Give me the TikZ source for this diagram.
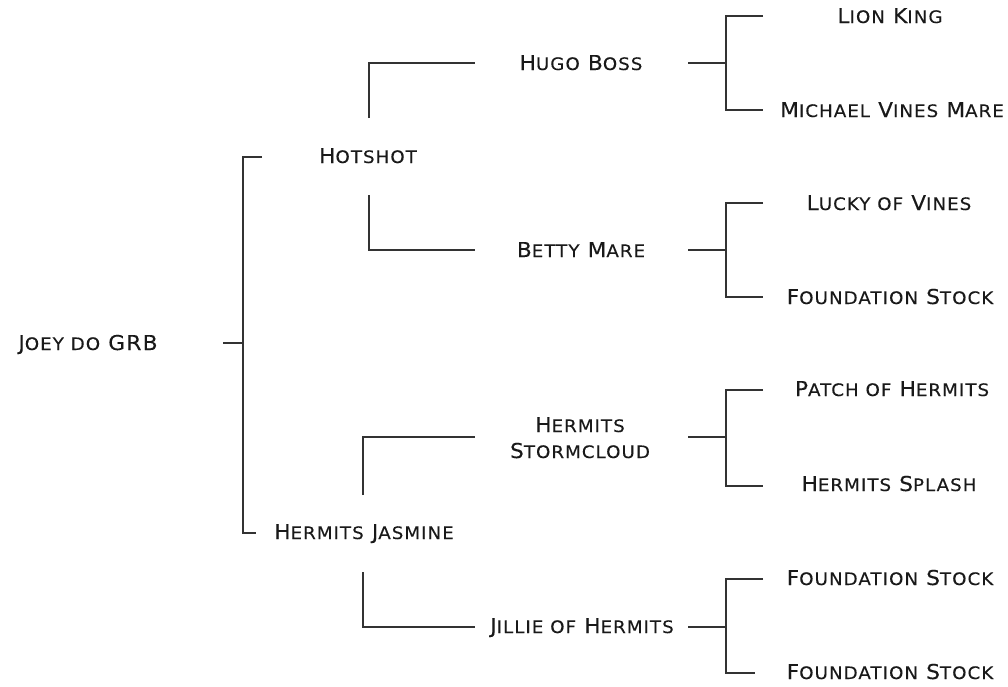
\documentclass[tikz,border=0pt]{standalone}
\usepackage{fontspec}
\newfontfamily\cpfont[LetterSpace=6,FakeStretch=1.06,FakeBold=0.2]{DejaVu Sans}
\newcommand\sm[1]{{\fontsize{17.2}{19}\selectfont #1}}
\tikzset{
  lbl/.style={font={\cpfont\fontsize{20.5}{26}\selectfont}, text=black!90, inner sep=0pt, align=center, anchor=base},
  ln/.style={line width=1.3pt, draw=black!80}
}
\begin{document}
\begin{tikzpicture}[x=1pt,y=-1pt]
\useasboundingbox (0,0) rectangle (1008,686);
% generation 0
\node[lbl] (joey) at (88,350) {J\sm{OEY DO} GRB};
% generation 1
\node[lbl] (hotshot) at (368,163) {H\sm{OTSHOT}};
\node[lbl] (jasmine) at (364,539) {H\sm{ERMITS} J\sm{ASMINE}};
% generation 2
\node[lbl] (hugo) at (581,70) {H\sm{UGO} B\sm{OSS}};
\node[lbl] (betty) at (581,257) {B\sm{ETTY} M\sm{ARE}};
\node[lbl] (storm) at (580,458) {H\sm{ERMITS}\\S\sm{TORMCLOUD}};
\node[lbl] (jillie) at (582,633) {J\sm{ILLIE OF} H\sm{ERMITS}};
% generation 3
\node[lbl] (lion) at (890,23) {L\sm{ION} K\sm{ING}};
\node[lbl] (michael) at (892,117) {M\sm{ICHAEL} V\sm{INES} M\sm{ARE}};
\node[lbl] (lucky) at (889,210) {L\sm{UCKY OF} V\sm{INES}};
\node[lbl] (found1) at (890,304) {F\sm{OUNDATION} S\sm{TOCK}};
\node[lbl] (patch) at (892,396) {P\sm{ATCH OF} H\sm{ERMITS}};
\node[lbl] (splash) at (889,491) {H\sm{ERMITS} S\sm{PLASH}};
\node[lbl] (found2) at (890,585) {F\sm{OUNDATION} S\sm{TOCK}};
\node[lbl] (found3) at (890,679) {F\sm{OUNDATION} S\sm{TOCK}};
% connectors
\draw[ln] (223,343) -- (243,343);
\draw[ln] (262,157) -- (243,157) -- (243,533) -- (256,533);
\draw[ln] (369,118) -- (369,63) -- (475,63);
\draw[ln] (369,195) -- (369,250) -- (475,250);
\draw[ln] (363,495) -- (363,437) -- (475,437);
\draw[ln] (363,572) -- (363,627) -- (475,627);
\draw[ln] (688,63) -- (726,63);
\draw[ln] (763,16) -- (726,16) -- (726,110) -- (763,110);
\draw[ln] (688,250) -- (726,250);
\draw[ln] (763,203) -- (726,203) -- (726,297) -- (763,297);
\draw[ln] (688,437) -- (726,437);
\draw[ln] (763,390) -- (726,390) -- (726,486) -- (763,486);
\draw[ln] (688,627) -- (726,627);
\draw[ln] (763,579) -- (726,579) -- (726,673) -- (755,673);
\end{tikzpicture}
\end{document}
